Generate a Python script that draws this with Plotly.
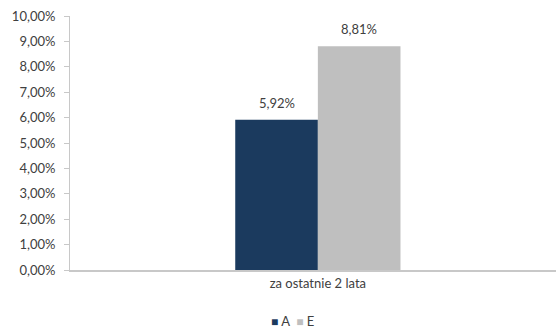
import plotly.graph_objects as go

# Data
categories = ["za ostatnie 2 lata"]
series_names = ["A", "E"]
series_values = [[0.0592], [0.0881]]
series_colors = ["#1b3a5e", "#bfbfbf"]
tick_values = [i / 100 for i in range(0, 11)]

font_family = "Lato, 'Noto Sans', sans-serif"
text_color = "#404040"
axis_color = "#c8c8c8"

bar_gap = 0.66
plot_left, plot_right = 70, 0
fig_w, fig_h = 556, 329
plot_w = fig_w - plot_left - plot_right
bar_px = plot_w * (1 - bar_gap) / len(series_names)

fig = go.Figure()
for i, (name, vals, color) in enumerate(zip(series_names, series_values, series_colors)):
    fig.add_trace(go.Bar(
        x=categories,
        y=vals,
        name=name,
        marker=dict(color=color, line=dict(width=0)),
        showlegend=False,
    ))
    # value labels above each bar
    offset = (i - (len(series_names) - 1) / 2) * bar_px
    for cat, v in zip(categories, vals):
        fig.add_annotation(
            x=cat, y=v, xref="x", yref="y",
            text=f"{v * 100:.2f}%".replace(".", ","),
            showarrow=False,
            xshift=offset, yshift=7,
            xanchor="center", yanchor="bottom",
            font=dict(size=13, color=text_color, family=font_family),
        )

# Compact legend line below the axis
legend_text = "  ".join(
    f"<span style='color:{c};font-size:12px'>■</span> <span style='color:{text_color}'>{n}</span>"
    for n, c in zip(series_names, series_colors)
)
fig.add_annotation(
    text=legend_text,
    xref="paper", yref="paper",
    x=0.457, y=-0.16,
    xanchor="center", yanchor="top",
    showarrow=False,
    font=dict(size=13, color=text_color, family=font_family),
)

fig.update_layout(
    width=fig_w, height=fig_h,
    margin=dict(l=plot_left, r=plot_right, t=16, b=59),
    paper_bgcolor="white",
    plot_bgcolor="white",
    separators=",.",
    barmode="group",
    bargap=bar_gap,
    bargroupgap=0,
    font=dict(family=font_family, size=13, color=text_color),
    xaxis=dict(
        type="category",
        range=[-0.51, 0.49],
        showline=True,
        linecolor=axis_color,
        linewidth=2,
        ticks="",
        showgrid=False,
        tickfont=dict(size=13, color=text_color),
    ),
    yaxis=dict(
        range=[0, 0.10],
        tickvals=tick_values,
        tickformat=".2%",
        showline=True,
        linecolor=axis_color,
        linewidth=1,
        ticks="outside",
        ticklen=5,
        tickcolor=axis_color,
        ticklabelstandoff=6,
        showgrid=False,
        zeroline=False,
        tickfont=dict(size=13, color=text_color),
    ),
)

fig.write_html("out.html")
